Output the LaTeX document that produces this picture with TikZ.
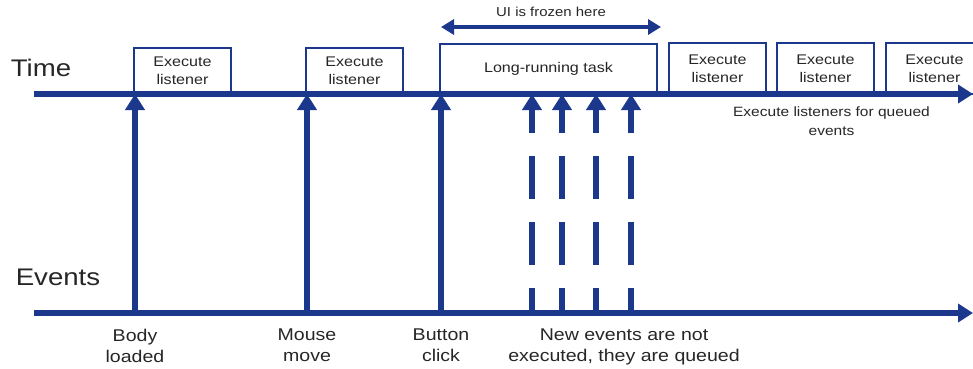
\documentclass[tikz,border=0pt]{standalone}
\usepackage{fontspec}
\setmainfont[FakeStretch=1.15]{Liberation Sans}
\usetikzlibrary{arrows.meta,positioning}
\definecolor{lineblue}{RGB}{28,56,140}
\definecolor{txtgray}{RGB}{38,38,38}

\begin{document}
\begin{tikzpicture}[x=1pt,y=-1pt,
  axis/.style={line width=5.5pt,lineblue,-{Triangle[length=15pt,width=18pt]}},
  evarrow/.style={line width=5.5pt,lineblue,-{Triangle[length=16pt,width=19pt]}},
  qarrow/.style={evarrow,dash pattern=on 43pt off 23pt,dash phase=18pt},
  uiarrow/.style={line width=4pt,lineblue,{Triangle[length=13pt,width=15pt]}-{Triangle[length=13pt,width=15pt]}},
  taskbox/.style={draw=lineblue,line width=2.6pt,fill=white,anchor=south west,outer sep=0pt,inner sep=0pt,align=center,text=txtgray,font=\fontsize{14}{18}\selectfont},
  lbl/.style={align=center,text=txtgray,inner sep=0pt,font=\fontsize{17}{20.5}\selectfont}]
\useasboundingbox (0,0) rectangle (973,368);
% points on the two lines
\coordinate (t1) at (135,94); \coordinate (t2) at (307,94); \coordinate (t3) at (441,94);
\coordinate (e1) at (135,313); \coordinate (e2) at (307,313); \coordinate (e3) at (441,313);
\coordinate (tq1) at (532,94); \coordinate (tq2) at (562,94); \coordinate (tq3) at (596,94); \coordinate (tq4) at (631,94);
\coordinate (eq1) at (532,313); \coordinate (eq2) at (562,313); \coordinate (eq3) at (596,313); \coordinate (eq4) at (631,313);
% boxes on the time line
\node[taskbox,minimum width=97pt,minimum height=46pt] (run1) at (134,94) {Execute\\listener};
\node[taskbox,minimum width=97pt,minimum height=46pt] (run2) at (306,94) {Execute\\listener};
\node[taskbox,minimum width=217pt,minimum height=50pt] (longtask) at (440,94) {Long-running task};
\node[taskbox,minimum width=97pt,minimum height=51pt] (run3) at (669,94) {Execute\\listener};
\node[taskbox,minimum width=97pt,minimum height=51pt] (run4) at (777,94) {Execute\\listener};
\node[taskbox,minimum width=97pt,minimum height=51pt] (run5) at (886,94) {Execute\\listener};
% the two lines
\coordinate (tstart) at (34,94); \coordinate (tend) at (973,94);
\coordinate (estart) at (34,313); \coordinate (eend) at (973,313);
\draw[axis] (tstart) -- (tend);
\draw[axis] (estart) -- (eend);
\node[text=txtgray,font=\fontsize{24}{28}\selectfont] (timelbl) at (41,68) {Time};
\node[text=txtgray,font=\fontsize{24}{28}\selectfont] (eventslbl) at (58,277) {Events};
% events
\draw[evarrow] (e1) -- (t1);
\draw[evarrow] (e2) -- (t2);
\draw[evarrow] (e3) -- (t3);
\draw[qarrow] (eq1) -- (tq1);
\draw[qarrow] (eq2) -- (tq2);
\draw[qarrow] (eq3) -- (tq3);
\draw[qarrow] (eq4) -- (tq4);
\node[lbl,below=16pt of e1] (bodylbl) {Body\\loaded};
\node[lbl,below=16pt of e2] (mouselbl) {Mouse\\move};
\node[lbl,below=16pt of e3] (buttonlbl) {Button\\click};
\node[lbl,below=16pt of eq3,xshift=28pt] (queuedlbl) {New events are not\\executed, they are queued};
% frozen span
\coordinate (frozl) at (441,27); \coordinate (frozr) at (661,27);
\draw[uiarrow] (frozl) -- (frozr) node[midway,above=5pt,text=txtgray,font=\fontsize{13}{16}\selectfont] (frozlbl) {UI is frozen here};
\node[lbl,below=13pt of run4.south,xshift=6pt,font=\fontsize{13.5}{19}\selectfont] (replaylbl) {Execute listeners for queued\\events};
\end{tikzpicture}
\end{document}
